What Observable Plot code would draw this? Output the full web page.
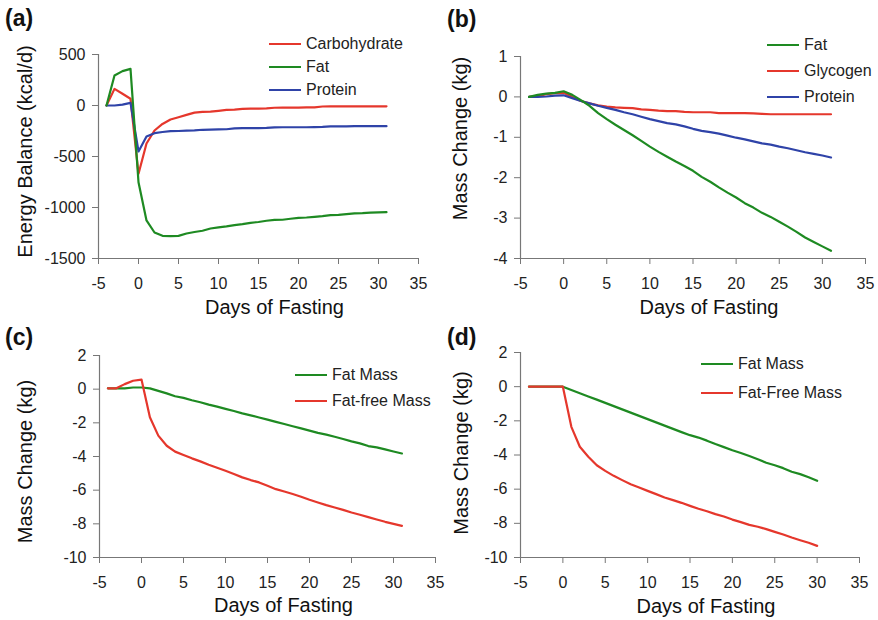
<!DOCTYPE html>
<html><head><meta charset="utf-8">
<script src="https://cdn.jsdelivr.net/npm/d3@7"></script>
<script src="https://cdn.jsdelivr.net/npm/@observablehq/plot@0.6"></script>
<style>
body{margin:0;background:#fff;font-family:"Liberation Sans",Arial,sans-serif;}
#root{position:relative;width:878px;height:620px;overflow:hidden;background:#fff}
.panel{position:absolute}
.plab{position:absolute;font-weight:bold;font-size:23px;color:#111;line-height:26px}
.leg{position:absolute;display:flex;align-items:center;height:20px;font-size:16px;color:#222;white-space:nowrap}
.leg .ln{display:inline-block;width:32px;height:0;border-top:2.5px solid;margin-right:5px}
</style></head><body><div id="root"></div>
<script>
// ---------- data ----------
const RED = "#e5372c", GREEN = "#1e8a22", BLUE = "#2f43a8";

const xTicks = [-5, 0, 5, 10, 15, 20, 25, 30, 35];

// (a) Energy balance (kcal/d)
const daysA = [-4,-3,-2,-1,0,1,2,3,4,5,6,7,8,9,10,11,12,13,14,15,16,17,18,19,20,21,22,23,24,25,26,27,28,29,30,31];
const carbA = [0,163,115,66,-670,-373,-245,-181,-137,-115,-92,-70,-62,-60,-52,-43,-40,-33,-30,-30,-28,-22,-20,-20,-20,-18,-18,-10,-8,-8,-8,-8,-8,-8,-8,-8];
const fatA  = [0,294,337,359,-752,-1127,-1245,-1278,-1280,-1278,-1255,-1240,-1228,-1206,-1195,-1185,-1173,-1163,-1150,-1142,-1130,-1121,-1120,-1110,-1101,-1098,-1092,-1085,-1075,-1072,-1065,-1058,-1055,-1050,-1047,-1046];
const protA = [0,0,8,26,-451,-304,-271,-260,-252,-250,-246,-244,-238,-236,-234,-233,-225,-222,-222,-222,-220,-215,-213,-213,-213,-213,-212,-210,-205,-204,-204,-203,-203,-203,-203,-203];
const yTicksA = [-1500, -1000, -500, 0, 500];

// (b) Mass change (kg)
const daysB = [-4,-3,-2,-1,0,1,2,3,4,5,6,7,8,9,10,11,12,13,14,15,16,17,18,19,20,21,22,23,24,25,26,27,28,29,30,31];
const fatB  = [0,0.05,0.08,0.10,0.14,0.05,-0.08,-0.22,-0.40,-0.55,-0.69,-0.82,-0.95,-1.09,-1.23,-1.36,-1.48,-1.60,-1.71,-1.83,-1.98,-2.10,-2.24,-2.37,-2.49,-2.63,-2.74,-2.87,-2.97,-3.09,-3.21,-3.34,-3.48,-3.59,-3.70,-3.81];
const glycB = [0,0.02,0.07,0.09,0.10,0.00,-0.10,-0.16,-0.21,-0.24,-0.26,-0.27,-0.28,-0.31,-0.32,-0.34,-0.35,-0.35,-0.37,-0.38,-0.38,-0.38,-0.40,-0.40,-0.40,-0.40,-0.41,-0.42,-0.43,-0.43,-0.43,-0.43,-0.43,-0.43,-0.43,-0.43];
const protB = [0,0,0.01,0.03,0.04,-0.03,-0.10,-0.16,-0.22,-0.27,-0.32,-0.38,-0.43,-0.49,-0.55,-0.60,-0.65,-0.68,-0.73,-0.79,-0.84,-0.87,-0.91,-0.96,-1.01,-1.05,-1.10,-1.15,-1.18,-1.23,-1.27,-1.32,-1.37,-1.41,-1.45,-1.50];
const yTicksB = [-4, -3, -2, -1, 0, 1];

// (c) Mass change (kg)
const daysC = [-4,-3,-2,-1,0,1,2,3,4,5,6,7,8,9,10,11,12,13,14,15,16,17,18,19,20,21,22,23,24,25,26,27,28,29,30,31];
const fatMassC = [0.05,0.05,0.05,0.10,0.10,0.05,-0.10,-0.25,-0.42,-0.52,-0.66,-0.78,-0.92,-1.04,-1.17,-1.30,-1.44,-1.56,-1.68,-1.81,-1.94,-2.07,-2.20,-2.33,-2.46,-2.60,-2.70,-2.83,-2.96,-3.10,-3.22,-3.38,-3.46,-3.58,-3.70,-3.82];
const ffmC = [0.05,0.05,0.30,0.50,0.57,-1.67,-2.76,-3.36,-3.71,-3.91,-4.11,-4.29,-4.49,-4.67,-4.85,-5.04,-5.24,-5.40,-5.54,-5.74,-5.94,-6.08,-6.23,-6.39,-6.57,-6.73,-6.89,-7.03,-7.17,-7.33,-7.46,-7.60,-7.74,-7.88,-8.00,-8.12];
const yTicksCD = [-10, -8, -6, -4, -2, 0, 2];

// (d) Mass change (kg)
const daysD = [-4,-3,-2,-1,0,1,2,3,4,5,6,7,8,9,10,11,12,13,14,15,16,17,18,19,20,21,22,23,24,25,26,27,28,29,30];
const fatMassD = [0,0,0,0,0,-0.19,-0.38,-0.57,-0.76,-0.95,-1.14,-1.33,-1.52,-1.71,-1.90,-2.09,-2.28,-2.47,-2.66,-2.84,-2.98,-3.16,-3.36,-3.54,-3.72,-3.88,-4.06,-4.25,-4.45,-4.60,-4.77,-4.98,-5.12,-5.30,-5.51];
const ffmD = [0,0,0,0,0,-2.35,-3.52,-4.10,-4.60,-4.93,-5.22,-5.47,-5.71,-5.90,-6.10,-6.29,-6.49,-6.64,-6.80,-6.98,-7.15,-7.29,-7.46,-7.60,-7.78,-7.93,-8.09,-8.20,-8.34,-8.50,-8.65,-8.83,-8.99,-9.14,-9.32];

// ---------- drawing ----------
const FONT = '"Liberation Sans", Arial, sans-serif';
const root = document.getElementById("root");

function table(days, vals) { return days.map((d, i) => ({day: d, v: vals[i]})); }

function panel(cfg) {
  const div = document.createElement("div");
  div.className = "panel";
  div.style.left = cfg.left + "px";
  div.style.top = cfg.top + "px";
  div.style.width = cfg.width + "px";
  div.style.height = cfg.height + "px";
  const ymin = cfg.yTicks[0];
  const svg = Plot.plot({
    width: cfg.width, height: cfg.height,
    marginLeft: cfg.ml, marginRight: cfg.mr, marginTop: cfg.mt, marginBottom: cfg.mb,
    x: {domain: [-5, 35]},
    y: {domain: [ymin, cfg.yTicks[cfg.yTicks.length - 1]]},
    style: {fontFamily: FONT, fontSize: "16px", color: "#222", background: "transparent", overflow: "visible"},
    marks: [
      Plot.axisX({ticks: xTicks, tickSize: 6, tickPadding: 13, stroke: "#777", fill: "#222", label: null, tickFormat: d => String(d)}),
      Plot.axisY({ticks: cfg.yTicks, tickSize: 6, tickPadding: 7, stroke: "#777", fill: "#222", label: null, tickFormat: d => String(d)}),
      Plot.ruleX([-5], {stroke: "#777", strokeWidth: 1.2}),
      Plot.ruleY([ymin], {stroke: "#777", strokeWidth: 1.2}),
      ...cfg.series.map(s => Plot.lineY(table(s.days, s.vals), {x: "day", y: "v", stroke: s.color, strokeWidth: 2.2})),
      Plot.text([cfg.xLabel], {frameAnchor: "bottom", lineAnchor: "middle", textAnchor: "middle", dx: 16, dy: cfg.xdy, fontSize: 20, fill: "#111"}),
      Plot.text([cfg.yLabel], {frameAnchor: "left", rotate: -90, textAnchor: "middle", lineAnchor: "middle", dx: cfg.ydx, dy: cfg.ydy, fontSize: 20, fill: "#111"})
    ]
  });
  div.appendChild(svg);
  root.appendChild(div);

  const lab = document.createElement("div");
  lab.className = "plab";
  lab.textContent = cfg.tag;
  lab.style.left = cfg.tagX + "px";
  lab.style.top = cfg.tagY + "px";
  root.appendChild(lab);

  cfg.legend.forEach((s, i) => {
    const row = document.createElement("div");
    row.className = "leg";
    row.style.left = cfg.legX + "px";
    row.style.top = (cfg.legY + i * cfg.legStep - 10) + "px";
    const ln = document.createElement("span");
    ln.className = "ln";
    ln.style.borderTopColor = s.color;
    row.appendChild(ln);
    row.appendChild(document.createTextNode(s.name));
    root.appendChild(row);
  });
}

panel({
  tag: "(a)", tagX: 5, tagY: 5,
  left: 0, top: 0, width: 439, height: 320, ml: 98, mr: 21, mt: 54, mb: 62,
  yTicks: yTicksA, xLabel: "Days of Fasting", yLabel: "Energy Balance (kcal/d)",
  xdy: 49, ydx: -73, ydy: -5,
  series: [
    {days: daysA, vals: carbA, color: RED},
    {days: daysA, vals: protA, color: BLUE},
    {days: daysA, vals: fatA, color: GREEN}
  ],
  legend: [{name: "Carbohydrate", color: RED}, {name: "Fat", color: GREEN}, {name: "Protein", color: BLUE}],
  legX: 269, legY: 44, legStep: 23
});

panel({
  tag: "(b)", tagX: 447, tagY: 6,
  left: 439, top: 0, width: 439, height: 320, ml: 81, mr: 13, mt: 56, mb: 62,
  yTicks: yTicksB, xLabel: "Days of Fasting", yLabel: "Mass Change (kg)",
  xdy: 49, ydx: -60, ydy: -19,
  series: [
    {days: daysB, vals: glycB, color: RED},
    {days: daysB, vals: protB, color: BLUE},
    {days: daysB, vals: fatB, color: GREEN}
  ],
  legend: [{name: "Fat", color: GREEN}, {name: "Glycogen", color: RED}, {name: "Protein", color: BLUE}],
  legX: 767, legY: 45, legStep: 26
});

panel({
  tag: "(c)", tagX: 5, tagY: 324,
  left: 0, top: 320, width: 439, height: 300, ml: 99, mr: 4, mt: 35, mb: 63,
  yTicks: yTicksCD, xLabel: "Days of Fasting", yLabel: "Mass Change (kg)",
  xdy: 48, ydx: -74, ydy: 5,
  series: [
    {days: daysC, vals: fatMassC, color: GREEN},
    {days: daysC, vals: ffmC, color: RED}
  ],
  legend: [{name: "Fat Mass", color: GREEN}, {name: "Fat-free Mass", color: RED}],
  legX: 295, legY: 375, legStep: 26
});

panel({
  tag: "(d)", tagX: 447, tagY: 324,
  left: 439, top: 320, width: 439, height: 300, ml: 81, mr: 19, mt: 32, mb: 63,
  yTicks: yTicksCD, xLabel: "Days of Fasting", yLabel: "Mass Change (kg)",
  xdy: 49, ydx: -59, ydy: -2,
  series: [
    {days: daysD, vals: fatMassD, color: GREEN},
    {days: daysD, vals: ffmD, color: RED}
  ],
  legend: [{name: "Fat Mass", color: GREEN}, {name: "Fat-Free Mass", color: RED}],
  legX: 701, legY: 364, legStep: 29
});
</script>
</body></html>
